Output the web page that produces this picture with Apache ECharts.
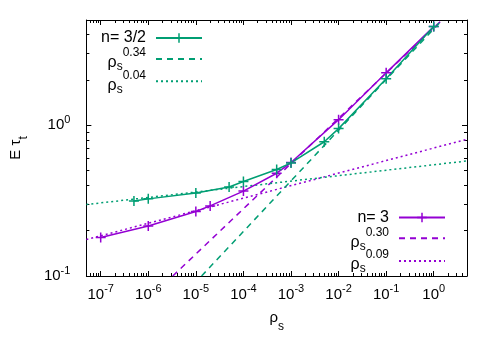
<!DOCTYPE html>
<html><head><meta charset="utf-8">
<script src="https://cdn.jsdelivr.net/npm/echarts@6/dist/echarts.min.js"></script>
<style>html,body{margin:0;padding:0;background:#fff}#c{width:498px;height:349px}</style>
</head><body><div id="c"></div>
<script>
// ---- data ----
const xN15 = [5e-7, 1e-6, 1e-5, 5e-5, 1e-4, 5e-4, 1e-3, 5e-3, 1e-2, 1e-1, 1];
const yN15 = [0.315, 0.325, 0.356, 0.390, 0.424, 0.509, 0.563, 0.778, 0.951, 2.04, 4.52];
const xN3 = [1e-7, 1e-6, 1e-5, 2e-5, 1e-4, 5e-4, 1e-3, 1e-2, 1e-1, 1];
const yN3 = [0.180, 0.215, 0.268, 0.292, 0.366, 0.481, 0.566, 1.09, 2.23, 4.52];
const xFit034 = [1.32e-5, 1.5];  const yFit034 = [0.1, 5];
const xFit004 = [5e-8, 5];       const yFit004 = [0.298, 0.580];
const xFit030 = [3.27e-6, 1.49]; const yFit030 = [0.1, 5];
const xFit009 = [5e-8, 5];       const yFit009 = [0.1745, 0.808];
const xTickExps = [-7, -6, -5, -4, -3, -2, -1, 0];
const yTickExps = [-1, 0];
const xRange = [5e-8, 5];
const yRange = [0.1, 5];

const L = Math.log10;
const pts = (xs, ys) => xs.map((x, i) => [L(x), L(ys[i])]);
function minorLogs(lo, hi) {
  const out = [];
  for (let e = Math.floor(lo) - 1; e <= Math.ceil(hi); e++)
    for (let k = 2; k <= 9; k++) { const v = e + L(k); if (v >= lo - 1e-9 && v <= hi + 1e-9) out.push(v); }
  return out;
}
const font = 'Liberation Sans, Arial, sans-serif';
const GREEN = '#009e73', PURPLE = '#9400d3';
const xmin = L(xRange[0]), xmax = L(xRange[1]), ymin = L(yRange[0]), ymax = L(yRange[1]);
const xMinor = minorLogs(xmin, xmax), yMinor = minorLogs(ymin, ymax);

const tickRich = {
  b: {fontSize: 15, lineHeight: 23, fontFamily: font, color: '#000'},
  p: {fontSize: 11, lineHeight: 12, padding: [0, 0, 11, 0], fontFamily: font, color: '#000'}
};
const powFmt = v => '{b|10}{p|' + Math.round(v) + '}';

function ax(kind, pos, vals, len, opts) {
  const isX = kind === 'x';
  const a = {
    type: 'value', position: pos, gridIndex: 0,
    min: isX ? xmin : ymin, max: isX ? xmax : ymax,
    axisLine: {show: !!opts.line, onZero: false, lineStyle: {color: '#000', width: 1}},
    axisTick: {show: true, inside: true, length: len, customValues: vals, lineStyle: {color: '#000', width: 1}},
    axisLabel: {show: false},
    splitLine: {show: false}
  };
  if (opts.labels) {
    a.axisLabel = {show: true, customValues: vals, margin: opts.margin, formatter: powFmt, rich: tickRich, color: '#000', fontFamily: font};
  }
  if (opts.name) {
    a.name = opts.name; a.nameLocation = 'middle'; a.nameGap = opts.nameGap;
    a.nameTextStyle = {fontFamily: font, color: '#000', fontSize: 15, rich: opts.nameRich};
  }
  return a;
}

const nameRich = {
  a: {fontSize: 15, lineHeight: 15, padding: [0, 0, 10, 0], fontFamily: font, color: '#000'},
  s: {fontSize: 12, lineHeight: 12, padding: [10, 0, 3, 0], fontFamily: font, color: '#000'}
};

const xAxis = [
  ax('x', 'bottom', xTickExps, 5, {line: true, labels: true, margin: 7, name: '{a|ρ}{s|s}', nameGap: 28, nameRich}),
  ax('x', 'bottom', xMinor, 3, {}),
  ax('x', 'top', xTickExps, 5, {line: true}),
  ax('x', 'top', xMinor, 3, {})
];
const yAxis = [
  ax('y', 'left', yTickExps, 5, {line: true, labels: true, margin: 16, name: '{a|E }{a|τ}{s|t}', nameGap: 52, nameRich}),
  ax('y', 'left', yMinor, 3, {}),
  ax('y', 'right', yTickExps, 5, {line: true}),
  ax('y', 'right', yMinor, 3, {})
];

const cross = 'path://M0,5L10,5M5,0L5,10';
function dataSeries(name, xs, ys, color) {
  return {name, type: 'line', xAxisIndex: 0, yAxisIndex: 0, data: pts(xs, ys),
    symbol: cross, symbolSize: 10, showSymbol: true,
    lineStyle: {color, width: 1.5},
    itemStyle: {color, borderColor: color, borderWidth: 1.5},
    emphasis: {disabled: true}, z: 3};
}
function fitSeries(name, xs, ys, color, dash) {
  return {name, type: 'line', xAxisIndex: 0, yAxisIndex: 0, data: pts(xs, ys),
    symbol: 'none', lineStyle: {color, width: 1.5, type: dash},
    itemStyle: {color, opacity: 0}, emphasis: {disabled: true}, z: 2};
}
const series = [
  fitSeries('f030', xFit030, yFit030, PURPLE, [6, 5]),
  fitSeries('f009', xFit009, yFit009, PURPLE, [2, 3]),
  fitSeries('f034', xFit034, yFit034, GREEN, [6, 5]),
  fitSeries('f004', xFit004, yFit004, GREEN, [2, 3]),
  dataSeries('n3', xN3, yN3, PURPLE),
  dataSeries('n15', xN15, yN15, GREEN)
];

const legendLabels = {
  n15: '{m|n= 3/2}', f034: '{a|ρ}{b|s}{c|0.34}', f004: '{a|ρ}{b|s}{c|0.04}',
  n3: '{m|n= 3}', f030: '{a|ρ}{b|s}{c|0.30}', f009: '{a|ρ}{b|s}{c|0.09}'
};
const legRich = {
  m: {fontSize: 16, lineHeight: 28, fontFamily: font, color: '#000'},
  a: {fontSize: 16, lineHeight: 16, padding: [10, 0, 2, 0], fontFamily: font, color: '#000'},
  b: {fontSize: 12, lineHeight: 12, padding: [16, 0, 0, 0], fontFamily: font, color: '#000'},
  c: {fontSize: 12, lineHeight: 12, padding: [2, 0, 14, 0], fontFamily: font, color: '#000'}
};
// one legend per key row (gnuplot-style key)
function legendRow(name, right, top) {
  return {data: [name], orient: 'vertical', align: 'right', right, top, padding: 0,
    itemWidth: 46, itemHeight: 12, selectedMode: false,
    formatter: n => legendLabels[n],
    textStyle: {fontFamily: font, fontSize: 16, color: '#000', rich: legRich, padding: [0, 5, 0, 0]},
    itemStyle: {borderWidth: 1.5}};
}

const chart = echarts.init(document.getElementById('c'), null, {renderer: 'canvas'});
chart.setOption({
  animation: false,
  backgroundColor: '#fff',
  grid: {left: 74, right: 31, top: 20, bottom: 73},
  xAxis, yAxis,
  legend: [
    legendRow('n15', 295, 30), legendRow('f034', 295, 45), legendRow('f004', 295, 67.2),
    legendRow('n3', 52, 209.5), legendRow('f030', 52, 224.2), legendRow('f009', 52, 247)
  ],
  series
});
</script></body></html>
